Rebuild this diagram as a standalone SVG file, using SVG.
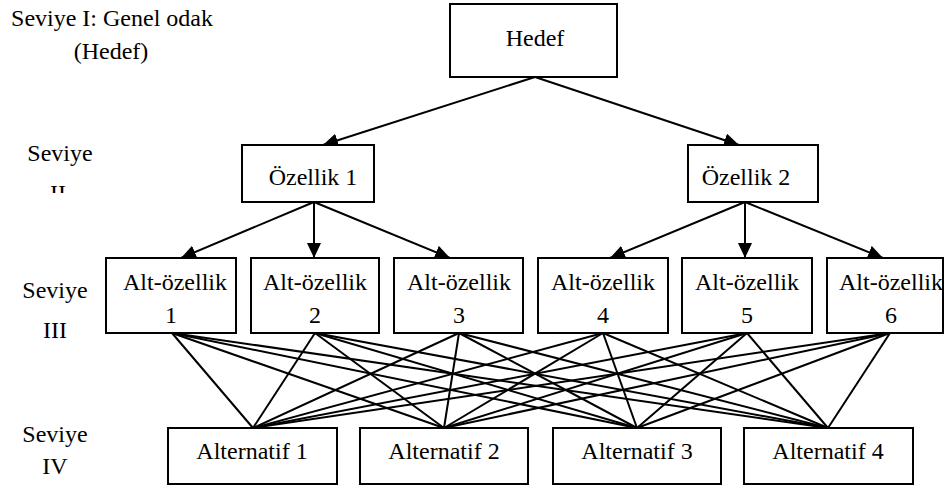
<svg xmlns="http://www.w3.org/2000/svg" width="948" height="488" viewBox="0 0 948 488">
<style>
text{font-family:"Liberation Serif","Times New Roman",serif;font-size:24px;fill:#000;text-anchor:middle}
.box{fill:#fff;stroke:#000;stroke-width:2}
.ln{stroke:#000;stroke-width:2;fill:none}
.ar{marker-end:url(#ah)}
</style>
<defs>
<marker id="ah" markerUnits="userSpaceOnUse" markerWidth="16" markerHeight="14" viewBox="0 0 16 14" refX="15" refY="7" orient="auto">
<path d="M0,0 L15,7 L0,14 Z" fill="#000"/>
</marker>
<clipPath id="c2"><rect x="0" y="0" width="120" height="193"/></clipPath>
</defs>
<g id="levels">
<text x="112" y="26">Seviye I: Genel odak</text>
<text x="111" y="59">(Hedef)</text>
<text x="60" y="161">Seviye</text>
<text x="58" y="201" clip-path="url(#c2)">II</text>
<text x="55" y="298">Seviye</text>
<text x="55" y="338">III</text>
<text x="55" y="442">Seviye</text>
<text x="55" y="474">IV</text>
</g>
<g id="connectors">
<line class="ln ar" x1="535" y1="77" x2="323" y2="145"/>
<line class="ln ar" x1="535" y1="77" x2="739" y2="145"/>
<line class="ln ar" x1="314" y1="202" x2="181" y2="258"/>
<line class="ln ar" x1="314" y1="202" x2="314" y2="258"/>
<line class="ln ar" x1="314" y1="202" x2="450" y2="258"/>
<line class="ln ar" x1="745" y1="202" x2="610" y2="258"/>
<line class="ln ar" x1="745" y1="202" x2="745" y2="258"/>
<line class="ln ar" x1="745" y1="202" x2="883" y2="258"/>
<g id="mesh">
<line class="ln" x1="172" y1="333" x2="253" y2="428"/>
<line class="ln" x1="172" y1="333" x2="444" y2="428"/>
<line class="ln" x1="172" y1="333" x2="637" y2="428"/>
<line class="ln" x1="172" y1="333" x2="828" y2="428"/>
<line class="ln" x1="315" y1="333" x2="253" y2="428"/>
<line class="ln" x1="315" y1="333" x2="444" y2="428"/>
<line class="ln" x1="315" y1="333" x2="637" y2="428"/>
<line class="ln" x1="315" y1="333" x2="828" y2="428"/>
<line class="ln" x1="459" y1="333" x2="253" y2="428"/>
<line class="ln" x1="459" y1="333" x2="444" y2="428"/>
<line class="ln" x1="459" y1="333" x2="637" y2="428"/>
<line class="ln" x1="459" y1="333" x2="828" y2="428"/>
<line class="ln" x1="603" y1="333" x2="253" y2="428"/>
<line class="ln" x1="603" y1="333" x2="444" y2="428"/>
<line class="ln" x1="603" y1="333" x2="637" y2="428"/>
<line class="ln" x1="603" y1="333" x2="828" y2="428"/>
<line class="ln" x1="747" y1="333" x2="253" y2="428"/>
<line class="ln" x1="747" y1="333" x2="444" y2="428"/>
<line class="ln" x1="747" y1="333" x2="637" y2="428"/>
<line class="ln" x1="747" y1="333" x2="828" y2="428"/>
<line class="ln" x1="890" y1="333" x2="253" y2="428"/>
<line class="ln" x1="890" y1="333" x2="444" y2="428"/>
<line class="ln" x1="890" y1="333" x2="637" y2="428"/>
<line class="ln" x1="890" y1="333" x2="828" y2="428"/>
</g>
</g>
<g id="hedef"><rect class="box" x="450" y="4" width="167" height="73"/><text x="535" y="46">Hedef</text></g>
<g id="ozellik1"><rect class="box" x="242" y="145" width="132" height="57"/><text x="313" y="185">Özellik 1</text></g>
<g id="ozellik2"><rect class="box" x="688" y="145" width="130" height="57"/><text x="746" y="185">Özellik 2</text></g>
<g id="alt1"><rect class="box" x="106" y="258" width="130" height="75"/><text x="175" y="290">Alt-özellik</text><text x="171" y="323">1</text></g>
<g id="alt2"><rect class="box" x="251" y="258" width="128" height="75"/><text x="315" y="290">Alt-özellik</text><text x="315" y="323">2</text></g>
<g id="alt3"><rect class="box" x="394" y="258" width="129" height="75"/><text x="459" y="290">Alt-özellik</text><text x="459" y="323">3</text></g>
<g id="alt4"><rect class="box" x="538" y="258" width="130" height="75"/><text x="603" y="290">Alt-özellik</text><text x="603" y="323">4</text></g>
<g id="alt5"><rect class="box" x="682" y="258" width="130" height="75"/><text x="747" y="290">Alt-özellik</text><text x="747" y="323">5</text></g>
<g id="alt6"><rect class="box" x="827" y="258" width="116" height="75"/><text x="891" y="290">Alt-özellik</text><text x="891" y="323">6</text></g>
<g id="alternatif1"><rect class="box" x="168" y="428" width="169" height="56"/><text x="252" y="459">Alternatif 1</text></g>
<g id="alternatif2"><rect class="box" x="360" y="428" width="168" height="56"/><text x="444" y="459">Alternatif 2</text></g>
<g id="alternatif3"><rect class="box" x="553" y="428" width="168" height="56"/><text x="637" y="459">Alternatif 3</text></g>
<g id="alternatif4"><rect class="box" x="744" y="428" width="169" height="56"/><text x="828" y="459">Alternatif 4</text></g>
</svg>
